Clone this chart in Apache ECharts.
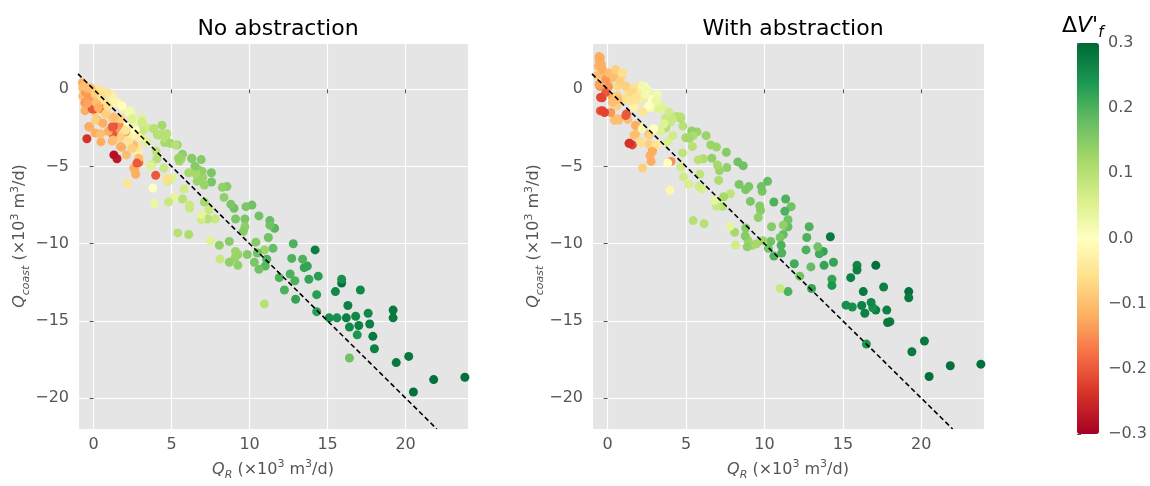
<!DOCTYPE html>
<html>
<head>
<meta charset="utf-8">
<script src="https://cdn.jsdelivr.net/npm/echarts@6/dist/echarts.min.js"></script>
<style>
  html, body { margin: 0; padding: 0; background: #fff; }
  #chart { width: 1150px; height: 486px; }
</style>
</head>
<body>
<div id="chart"></div>
<script>
// [Q_R, Q_coast, dV'f]
const noAbstraction = [
  [23.8,-18.65,0.29],[21.8,-18.8,0.29],[20.5,-19.6,0.29],[20.2,-17.3,0.28],[19.4,-17.7,0.28],
  [19.2,-14.3,0.28],[19.2,-14.8,0.28],[18.0,-16.8,0.27],[17.9,-16.0,0.28],[17.7,-15.2,0.27],
  [17.6,-14.5,0.26],[17.1,-13.0,0.26],[17.0,-15.3,0.27],[16.9,-15.9,0.24],[16.8,-14.7,0.26],
  [16.4,-15.4,0.26],[16.3,-14.0,0.27],[16.2,-14.8,0.27],[16.4,-17.4,0.17],[15.9,-12.55,0.29],
  [15.9,-12.3,0.25],[15.6,-14.8,0.25],[15.5,-13.1,0.26],[15.1,-14.8,0.25],[14.3,-14.4,0.23],
  [14.3,-13.3,0.23],[14.4,-12.1,0.23],[14.2,-10.4,0.27],[13.8,-12.3,0.22],[13.7,-11.45,0.22],
  [13.5,-11.55,0.22],[13.4,-11.0,0.2],[12.95,-13.6,0.22],[12.9,-12.4,0.2],[12.8,-10.0,0.2],
  [12.7,-10.95,0.2],[12.6,-11.96,0.2],[12.23,-13.0,0.2],[11.9,-12.2,0.2],[11.6,-9.0,0.19],
  [11.5,-10.3,0.18],[11.3,-8.5,0.18],[11.3,-8.8,0.17],[11.2,-9.6,0.17],[11.1,-11.0,0.2],
  [11.0,-11.45,0.19],[10.95,-13.9,0.1],[10.95,-10.4,0.13],[10.6,-11.65,0.17],[10.6,-8.2,0.17],
  [10.5,-10.6,0.17],[10.4,-9.9,0.15],[10.3,-11.2,0.16],[10.15,-7.5,0.17],[9.85,-10.7,0.15],
  [9.77,-7.6,0.16],[9.7,-8.4,0.16],[9.7,-8.9,0.14],[9.6,-9.2,0.15],[9.25,-10.7,0.13],
  [9.1,-8.4,0.16],[9.0,-7.7,0.17],[9.1,-10.5,0.13],[9.06,-10.9,0.13],[9.25,-11.4,0.14],
  [8.8,-7.45,0.16],[8.7,-9.85,0.15],[8.7,-11.2,0.14],[8.55,-6.3,0.15],[8.25,-6.35,0.14],
  [8.36,-7.0,0.14],[8.1,-11.0,0.08],[8.06,-10.1,0.14],[7.5,-9.8,0.05],[7.8,-8.4,0.08],
  [7.55,-5.4,0.16],[7.56,-6.0,0.16],[7.3,-8.4,0.1],[7.4,-7.8,0.08],[7.1,-7.3,0.12],
  [7.0,-5.7,0.13],[6.96,-5.3,0.14],[6.9,-4.55,0.15],[6.9,-8.45,0.07],[6.9,-8.1,0.04],
  [7.1,-6.2,0.13],[6.7,-5.2,0.14],[6.64,-5.95,0.13],[6.55,-5.47,0.12],[6.3,-4.5,0.14],
  [6.1,-5.4,0.12],[6.15,-7.5,0.08],[6.15,-7.7,0.08],[6.1,-9.4,0.11],[5.8,-6.45,0.07],
  [5.7,-7.1,0.1],[5.7,-4.2,0.14],[5.6,-4.5,0.13],[5.5,-4.65,0.12],[5.4,-9.3,0.1],
  [5.36,-3.6,0.13],[5.15,-7.0,0.04],[5.04,-5.75,0.05],[4.8,-7.3,0.08],[4.77,-5.97,0.06],
  [4.7,-5.8,-0.06],[4.5,-5.1,0.08],[4.6,-3.05,0.12],[4.55,-3.45,0.12],[4.4,-2.9,0.1],
  [4.1,-2.95,0.12],[4.0,-4.0,0.09],[4.06,-4.5,0.1],[3.98,-5.57,-0.2],[3.9,-7.4,0.03],
  [3.83,-2.55,0.1],[3.8,-6.4,0.0],[3.7,-4.9,0.07],[3.4,-2.5,0.07],[3.17,-3.2,0.05],
  [3.1,-2.66,0.08],[3.1,-1.9,0.05],[3.0,-4.57,-0.05],[2.9,-4.75,-0.18],[2.85,-4.0,-0.03],
  [2.8,-3.77,-0.05],[2.7,-5.5,-0.12],[2.64,-5.2,-0.12],[2.57,-3.6,-0.1],[2.55,-2.9,0.0],
  [2.6,-2.1,0.03],[2.47,-1.6,0.03],[2.34,-1.4,0.02],[2.36,-2.9,-0.03],[2.17,-6.1,-0.05],
  [2.1,-4.25,-0.1],[2.06,-2.77,-0.12],[2.0,-2.34,0.0],[1.9,-1.28,-0.03],[1.8,-0.96,-0.05],
  [1.8,-3.75,-0.12],[1.7,-3.1,-0.08],[1.64,-2.34,-0.15],[1.5,-4.5,-0.27],[1.3,-4.25,-0.28],
  [1.4,-2.6,-0.14],[1.23,-2.9,-0.2],[1.2,-3.34,-0.12],[1.25,-2.4,-0.22],[1.28,-0.9,-0.03],
  [1.2,-1.9,-0.08],[0.94,-2.72,-0.12],[0.8,-1.6,-0.1],[0.72,-0.8,-0.05],[0.47,-3.4,-0.12],
  [0.38,-0.64,-0.05],[0.26,-2.0,-0.1],[0.1,-2.83,-0.12],[0.1,-1.5,-0.08],[0.0,-1.28,-0.22],
  [-0.17,-1.23,-0.2],[-0.3,-2.43,-0.15],[-0.43,-3.2,-0.24],[-0.5,-1.32,-0.12],[-0.57,-0.9,-0.1],
  [-0.7,-0.43,-0.1],[-0.7,0.08,-0.1],[-0.72,0.43,-0.12],[-0.62,0.32,-0.12],[-0.51,-0.21,-0.14],
  [-0.55,-0.85,-0.14],[-0.55,-1.38,-0.12],[-0.09,-1.27,-0.2],[0.02,-0.74,-0.1],[0.13,-2.0,-0.08],
  [-0.25,-2.44,-0.12],[0.45,-2.87,-0.1],[0.55,-1.27,-0.18],[0.77,-1.59,-0.08],[1.19,-2.44,-0.2],
  [1.25,-3.29,-0.1],[1.72,-3.71,-0.12],[2.04,-2.65,-0.05],[2.25,-3.4,-0.05],[2.46,-3.82,-0.08],
  [2.89,-4.46,-0.1],[2.57,-5.1,-0.12],[2.78,-4.78,-0.2],[3.42,-3.4,0.05],[3.64,-4.99,0.05],
  [1.5,-0.85,-0.02],[1.82,-1.06,0.0],[2.25,-1.49,0.02],[2.46,-1.91,0.05],[3.1,-2.12,0.07],
  [3.85,-2.55,0.1],[4.16,-2.97,0.1],[4.59,-3.18,0.1],[4.91,-3.5,0.12],[5.23,-3.6,0.1],
  [5.44,-4.46,0.13],[6.29,-4.46,0.15],[6.5,-4.99,0.15],[1.19,-0.42,-0.03],[0.87,-0.21,-0.05],
  [0.34,0.0,-0.05],[-0.09,-0.1,-0.08],[-0.4,0.0,-0.12],[-0.3,-0.53,-0.14],[0.23,-0.96,-0.1],
  [1.72,-1.91,-0.08],[1.29,-1.8,-0.1],[2.68,-2.65,0.0],[4.38,-2.33,0.12],[4.7,-2.87,0.1],
  [2.89,-3.08,-0.03],[-0.6,0.2,-0.1],[-0.2,0.1,-0.1],[0.1,-0.3,-0.08],[0.5,-0.4,-0.06],
  [-0.4,-0.9,-0.13],[0.3,-1.2,-0.12],[0.9,-1.1,-0.06],[0.6,-2.2,-0.12]
];

const withAbstraction = [
  [23.8,-17.8,0.29],[21.85,-17.9,0.29],[20.5,-18.6,0.29],[20.2,-16.3,0.28],[19.4,-17.0,0.28],
  [19.2,-13.1,0.29],[19.2,-13.5,0.28],[18.0,-15.05,0.27],[17.85,-15.1,0.28],[17.8,-14.3,0.27],
  [17.6,-12.8,0.27],[17.1,-11.4,0.29],[17.1,-14.3,0.27],[16.9,-14.15,0.25],[16.8,-13.8,0.26],
  [16.5,-16.5,0.24],[16.4,-14.5,0.27],[16.3,-13.1,0.28],[16.2,-14.0,0.27],[15.9,-11.4,0.26],
  [15.9,-11.7,0.27],[15.6,-14.1,0.25],[15.5,-12.2,0.27],[15.2,-13.98,0.25],[14.4,-11.2,0.22],
  [14.3,-12.3,0.22],[14.3,-12.7,0.24],[14.2,-9.55,0.28],[13.8,-11.4,0.22],[13.75,-10.5,0.22],
  [13.5,-10.65,0.21],[13.4,-10.2,0.17],[12.96,-11.5,0.18],[13.0,-12.9,0.22],[12.85,-8.9,0.2],
  [12.7,-9.6,0.2],[12.65,-10.4,0.2],[12.25,-12.1,0.17],[11.9,-11.3,0.21],[11.5,-13.1,0.2],
  [11.7,-7.6,0.17],[11.5,-8.9,0.18],[11.5,-8.45,0.17],[11.3,-7.9,0.2],[11.35,-7.1,0.2],
  [11.2,-9.4,0.18],[11.2,-8.8,0.14],[11.0,-9.6,0.16],[11.06,-10.1,0.2],[11.1,-10.6,0.2],
  [11.0,-12.9,0.08],[10.6,-10.8,0.2],[10.4,-9.85,0.17],[10.45,-8.9,0.15],[10.6,-7.3,0.2],
  [10.25,-10.3,0.17],[10.2,-5.96,0.18],[9.9,-9.8,0.13],[9.85,-6.6,0.16],[9.8,-6.3,0.17],
  [9.75,-7.85,0.15],[9.7,-7.55,0.15],[9.6,-8.3,0.14],[9.5,-10.0,0.12],[9.23,-10.1,0.12],
  [9.1,-7.26,0.16],[9.0,-6.3,0.16],[8.96,-9.8,0.13],[8.9,-10.2,0.14],[8.8,-6.5,0.16],
  [8.8,-8.98,0.15],[8.77,-9.5,0.15],[8.64,-4.95,0.17],[8.38,-6.16,0.16],[8.3,-4.7,0.17],
  [8.15,-10.1,0.07],[8.1,-9.26,0.12],[7.8,-8.87,0.04],[7.83,-6.77,0.09],[7.57,-4.08,0.15],
  [7.6,-5.07,0.14],[7.4,-6.96,0.12],[7.34,-7.58,0.1],[7.13,-5.27,0.13],[7.08,-5.9,0.11],
  [7.0,-4.9,0.12],[6.94,-7.58,0.08],[6.83,-7.2,0.04],[6.94,-3.74,0.13],[6.64,-4.46,0.14],
  [6.57,-3.6,0.13],[6.28,-3.0,0.13],[6.15,-8.7,0.1],[6.1,-4.5,0.11],[6.0,-6.45,0.06],
  [5.87,-5.5,0.09],[5.83,-6.3,0.07],[5.77,-4.57,0.1],[5.7,-2.76,0.13],[5.45,-8.5,0.1],
  [5.4,-3.7,0.06],[5.36,-2.7,0.14],[5.45,-3.0,0.11],[5.17,-6.16,0.06],[4.98,-3.14,0.12],
  [4.83,-5.67,0.07],[4.77,-4.12,0.09],[4.79,-2.38,0.1],[4.66,-5.03,0.07],[4.64,-1.87,0.12],
  [4.4,-1.76,0.1],[4.15,-3.0,0.07],[4.04,-4.67,-0.15],[3.96,-6.54,-0.02],[3.83,-4.78,0.0],
  [4.0,-2.12,0.08],[3.8,-3.4,0.06],[3.7,-2.5,0.1],[3.7,-1.87,0.08],[3.45,-1.15,0.05],
  [3.36,-2.72,0.05],[3.13,-3.6,-0.03],[3.1,-0.6,0.03],[2.94,-2.55,0.0],[2.85,-3.9,-0.15],
  [2.77,-4.67,-0.12],[2.7,-4.3,-0.12],[2.64,-2.9,-0.15],[2.64,-3.57,-0.08],[2.5,-0.42,0.04],
  [2.34,0.17,0.0],[2.47,-1.25,0.02],[2.23,-1.44,-0.05],[2.23,-5.1,-0.08],[2.1,-3.44,-0.07],
  [2.04,-2.4,-0.05],[1.9,0.17,-0.05],[1.8,-0.7,-0.05],[1.77,-2.93,-0.1],[1.77,-2.33,-0.1],
  [1.57,-3.6,-0.22],[1.4,-3.5,-0.24],[1.38,-0.32,-0.06],[1.28,-1.95,-0.1],[1.2,-1.6,-0.2],
  [1.13,0.2,-0.07],[1.04,-0.64,-0.06],[0.9,0.9,-0.08],[0.7,-2.0,-0.1],[0.6,-1.06,-0.08],
  [0.5,1.2,-0.06],[0.43,-2.0,-0.1],[0.3,-0.5,-0.12],[0.2,-1.5,-0.14],[0.17,0.68,-0.1],
  [0.06,0.17,-0.14],[-0.2,-1.5,-0.22],[-0.36,-0.55,-0.22],[-0.47,-1.4,-0.2],[-0.5,0.2,-0.15],
  [-0.55,1.9,-0.12],[-0.47,2.05,-0.12],[-0.4,1.6,-0.11],[-0.26,1.17,-0.1],[-0.64,0.9,-0.1],
  [-0.6,1.5,-0.11],[0.0,1.0,-0.1],[-0.13,0.64,-0.14],[0.38,0.8,-0.1],[0.64,0.2,-0.07],
  [0.8,0.53,-0.08],[1.55,0.0,-0.06],[1.98,-0.32,-0.04],[2.57,-0.04,0.02],[2.85,-0.64,0.0],
  [3.15,-0.32,0.02],[3.15,-0.85,0.03],[2.83,-1.17,0.02],[1.66,-1.17,-0.03],[1.45,-0.74,-0.05],
  [2.08,-0.64,-0.04],[0.6,-0.42,-0.08],[0.64,-0.64,-0.1],
  [-0.55,2.12,-0.12],[-0.45,1.7,-0.12],[-0.34,1.27,-0.12],[0.09,1.06,-0.1],[0.51,1.27,-0.08],
  [0.94,1.06,-0.06],[-0.55,0.32,-0.13],[-0.13,-0.21,-0.2],[-0.45,-0.53,-0.22],[-0.34,-1.38,-0.22],
  [0.3,-0.85,-0.1],[0.62,-1.91,-0.1],[1.15,-1.7,-0.2],[1.15,0.21,-0.08],[1.58,-0.21,-0.07],
  [1.79,-0.53,-0.05],[2.21,0.21,0.02],[2.42,-0.32,0.02],[3.06,-0.74,0.03],[2.64,-1.06,0.0],
  [3.28,-1.27,0.05],[1.79,-2.34,-0.12],[2.21,-2.55,0.02],[2.85,-2.65,0.0],[1.68,-2.97,-0.1],
  [2.64,-2.97,-0.08],[1.36,-3.5,-0.24],[2.1,-3.4,-0.06],[3.06,-3.61,-0.05],[2.85,-4.03,-0.12],
  [3.92,-1.49,0.07],[4.13,-1.91,0.08],[4.66,-1.8,0.1],[5.19,-3.18,0.12],[5.4,-3.71,0.1],
  [3.6,-2.23,0.05]
];

// 1:1 reference line
const refLineX = [-1, 22];
const refLineY = [1, -22];

const plotTitles = ['No abstraction', 'With abstraction'];
const colorTicks = [-0.3, -0.2, -0.1, 0.0, 0.1, 0.2, 0.3];
const rdYlGn = ['#a50026','#d73027','#f46d43','#fdae61','#fee08b','#ffffbf',
                '#d9ef8b','#a6d96a','#66bd63','#1a9850','#006837'];

const FONT = 'DejaVu Sans';
const GREY = '#555';
const minus = v => (v < 0 ? '\u2212' + Math.abs(v) : String(v));

const nameRich = {
  i:   { fontFamily: FONT, fontStyle: 'italic', fontSize: 16, color: GREY, lineHeight: 22 },
  sub: { fontFamily: FONT, fontStyle: 'italic', fontSize: 11, color: GREY, lineHeight: 12, verticalAlign: 'bottom' },
  sup: { fontFamily: FONT, fontSize: 11, color: GREY, lineHeight: 12, verticalAlign: 'top' },
  n:   { fontFamily: FONT, fontSize: 16, color: GREY, lineHeight: 22 }
};

function xAxisFor(gridIndex) {
  return {
    type: 'value', gridIndex, min: -1, max: 24, splitNumber: 5,
    name: '{i|Q}{sub|R}{n| (×10}{sup|3}{n| m}{sup|3}{n|/d)}',
    nameLocation: 'middle', nameGap: 30,
    nameTextStyle: { rich: nameRich },
    axisLine: { show: false },
    axisTick: { show: true, length: 4, lineStyle: { color: GREY } },
    axisLabel: { color: GREY, fontSize: 16, fontFamily: FONT, margin: 8,
                 showMinLabel: false, showMaxLabel: false, formatter: minus },
    splitLine: { show: true, lineStyle: { color: '#fff', width: 1.2 } }
  };
}
function yAxisFor(gridIndex) {
  return {
    type: 'value', gridIndex, min: -22, max: 3, splitNumber: 5,
    name: '{i|Q}{sub|coast}{n| (×10}{sup|3}{n| m}{sup|3}{n|/d)}',
    nameLocation: 'middle', nameGap: 46, nameRotate: 90,
    nameTextStyle: { rich: nameRich },
    axisLine: { show: false },
    axisTick: { show: true, length: 4, lineStyle: { color: GREY } },
    axisLabel: { color: GREY, fontSize: 16, fontFamily: FONT, margin: 9,
                 showMinLabel: false, showMaxLabel: false, formatter: minus },
    splitLine: { show: true, lineStyle: { color: '#fff', width: 1.2 } }
  };
}

const refLine = refLineX.map((x, i) => [x, refLineY[i]]);

const chart = echarts.init(document.getElementById('chart'));
const option = {
  animation: false,
  backgroundColor: '#fff',
  title: [
    { text: plotTitles[0], left: 273, top: 13, textAlign: 'center',
      textStyle: { fontFamily: FONT, fontSize: 22, fontWeight: 'normal', color: '#000' } },
    { text: plotTitles[1], left: 788, top: 13, textAlign: 'center',
      textStyle: { fontFamily: FONT, fontSize: 22, fontWeight: 'normal', color: '#000' } },
    { text: '{n|Δ}{i|V}{n|\'}{sub|f}', left: 1057, top: 6,
      textStyle: { fontWeight: 'normal', rich: {
        n:   { fontFamily: FONT, fontSize: 22, fontWeight: 'normal', color: '#000', lineHeight: 30 },
        i:   { fontFamily: FONT, fontSize: 22, fontWeight: 'normal', fontStyle: 'italic', color: '#000', lineHeight: 30 },
        sub: { fontFamily: FONT, fontSize: 15, fontWeight: 'normal', fontStyle: 'italic', color: '#000', lineHeight: 16, verticalAlign: 'bottom' }
      } } }
  ],
  grid: [
    { left: 78, top: 43, width: 390, height: 391, show: true, backgroundColor: '#E5E5E5', borderWidth: 0 },
    { left: 592, top: 43, width: 392, height: 391, show: true, backgroundColor: '#E5E5E5', borderWidth: 0 },
    { left: 1077, top: 43, width: 22, height: 391, show: false }
  ],
  xAxis: [
    xAxisFor(0), xAxisFor(1),
    { type: 'value', gridIndex: 2, show: false, min: 0, max: 1 }
  ],
  yAxis: [
    yAxisFor(0), yAxisFor(1),
    { type: 'value', gridIndex: 2, position: 'right', min: colorTicks[0], max: colorTicks[colorTicks.length - 1],
      interval: 0.1,
      axisLine: { show: false }, splitLine: { show: false },
      axisTick: { show: true, length: 4, lineStyle: { color: GREY } },
      axisLabel: { color: GREY, fontSize: 16, fontFamily: FONT, margin: 9,
                   formatter: v => (v < -1e-9 ? '\u2212' : '') + Math.abs(v).toFixed(1) } }
  ],
  visualMap: {
    type: 'continuous', min: -0.3, max: 0.3, dimension: 2, seriesIndex: [0, 2],
    inRange: { color: rdYlGn },
    left: 1077, top: 43, itemWidth: 22, itemHeight: 391, padding: 0,
    calculable: false, hoverLink: false
  },
  series: [
    { type: 'scatter', xAxisIndex: 0, yAxisIndex: 0, data: noAbstraction,
      symbolSize: 9, itemStyle: { opacity: 1 }, silent: true },
    { type: 'line', xAxisIndex: 0, yAxisIndex: 0, data: refLine, symbol: 'none', z: 5,
      lineStyle: { color: '#000', width: 1.6, type: [5, 3] }, silent: true },
    { type: 'scatter', xAxisIndex: 1, yAxisIndex: 1, data: withAbstraction,
      symbolSize: 9, itemStyle: { opacity: 1 }, silent: true },
    { type: 'line', xAxisIndex: 1, yAxisIndex: 1, data: refLine, symbol: 'none', z: 5,
      lineStyle: { color: '#000', width: 1.6, type: [5, 3] }, silent: true }
  ]
};
chart.setOption(option);
</script>
</body>
</html>
